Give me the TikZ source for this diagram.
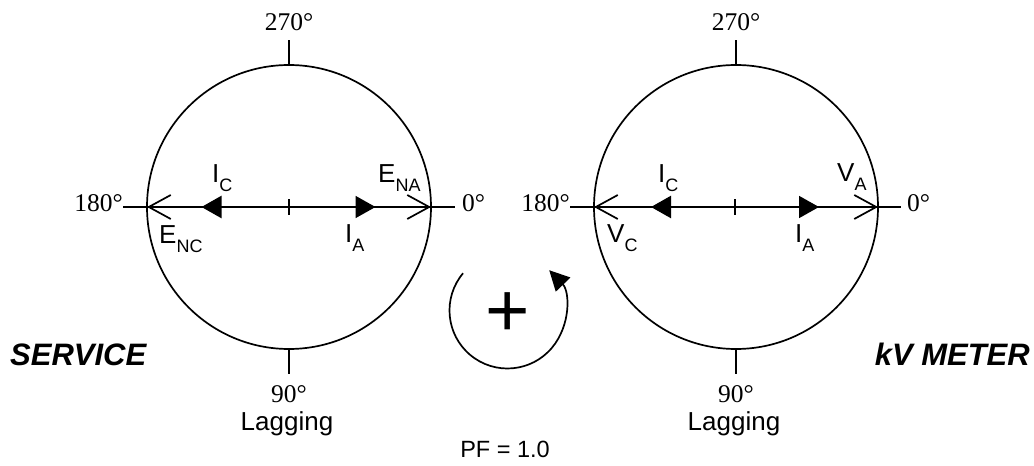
\documentclass[tikz,border=0pt]{standalone}
\usepackage{fontspec}
\setmainfont{Liberation Serif}
\newfontfamily\arialf{Liberation Sans}
\usetikzlibrary{arrows.meta}
\newcommand\vecsub[2]{#1\raisebox{-9pt}{\fontsize{18}{18}\selectfont #2}}
\begin{document}
\begin{tikzpicture}[x=1pt,y=1pt,
  dial/.style={circle,draw,minimum size=284pt,inner sep=0pt,outer sep=0pt,line width=1.7pt},
  axis/.style={line width=1.7pt},
  openvec/.style={line width=1.7pt,-{Straight Barb[length=22pt,width=24pt,line width=1.7pt]}},
  fillvec/.style={line width=2.4pt,-{Triangle[length=20pt,width=22pt]}},
  deg/.style={font=\fontsize{25.5}{30}\selectfont,inner sep=0pt},
  sans/.style={font=\arialf\fontsize{26}{30}\selectfont,inner sep=0pt},
  title/.style={font=\arialf\bfseries\itshape\fontsize{31}{36}\selectfont,inner sep=0pt},
  rotarrow/.style={line width=1.7pt,-{Triangle[length=20pt,width=20pt]}}
]
\useasboundingbox (0,0) rectangle (1034,466);

% ---------- left dial (SERVICE) ----------
\node[dial] (L) at (289,259) {};
\coordinate (Lc) at (289,259);
\coordinate (Lw) at (123,259);
\coordinate (Le) at (455,259);
\coordinate (LtopEnd) at (289,426);
\coordinate (LbotEnd) at (289,92);
\coordinate (LIC) at (201.5,259);
\coordinate (LIA) at (375.5,259);
\coordinate (LtickA) at (289,251);
\coordinate (LtickB) at (289,267);
\draw[axis] (Lw) -- (Le);
\draw[axis] (L.north) -- (LtopEnd);
\draw[axis] (L.south) -- (LbotEnd);
\draw[axis,line width=1.4pt] (LtickA) -- (LtickB);
\draw[openvec] (Lc) -- (L.west);
\draw[openvec] (Lc) -- (L.east);
\draw[fillvec] (Lc) -- (LIC);
\draw[fillvec,line width=1.7pt] (Lc) -- (LIA);
\node[deg,anchor=base] (L270) at (289,435.5) {270°};
\node[deg,anchor=base] (L90) at (289,63) {90°};
\node[sans,anchor=base] (Llag) at (287,35) {Lagging};
\node[deg,anchor=base east] (L180) at (123,254) {180°};
\node[deg,anchor=base west] (L0) at (462,254) {0°};
\node[sans,anchor=base west] (LlIC) at (212,283) {\vecsub{I}{C}};
\node[sans,anchor=base west] (LlENA) at (378,283) {\vecsub{E}{NA}};
\node[sans,anchor=base west] (LlENC) at (159,222) {\vecsub{E}{NC}};
\node[sans,anchor=base west] (LlIA) at (345,223) {\vecsub{I}{A}};
\node[title,anchor=base west] (svc) at (10,100) {SERVICE};

% ---------- right dial (kV METER) ----------
\node[dial] (R) at (736,259) {};
\coordinate (Rc) at (736,259);
\coordinate (Rw) at (570,259);
\coordinate (Re) at (901,259);
\coordinate (RtopEnd) at (736,426);
\coordinate (RbotEnd) at (736,92);
\coordinate (RIC) at (651,259);
\coordinate (RIA) at (819,259);
\coordinate (RtickA) at (735,251);
\coordinate (RtickB) at (735,267);
\draw[axis] (Rw) -- (Re);
\draw[axis] (R.north) -- (RtopEnd);
\draw[axis] (R.south) -- (RbotEnd);
\draw[axis,line width=1.4pt] (RtickA) -- (RtickB);
\draw[openvec] (Rc) -- (R.west);
\draw[openvec] (Rc) -- (R.east);
\draw[fillvec] (Rc) -- (RIC);
\draw[fillvec,line width=1.7pt] (Rc) -- (RIA);
\node[deg,anchor=base] (R270) at (736,435.5) {270°};
\node[deg,anchor=base] (R90) at (736,63) {90°};
\node[sans,anchor=base] (Rlag) at (734,35) {Lagging};
\node[deg,anchor=base east] (R180) at (570,254) {180°};
\node[deg,anchor=base west] (R0) at (907,254) {0°};
\node[sans,anchor=base west] (RlIC) at (658,283) {\vecsub{I}{C}};
\node[sans,anchor=base west] (RlVA) at (837,284) {\vecsub{V}{A}};
\node[sans,anchor=base west] (RlVC) at (607,223) {\vecsub{V}{C}};
\node[sans,anchor=base west] (RlIA) at (795,223) {\vecsub{I}{A}};
\node[title,anchor=base east] (kvm) at (1030,100) {kV METER};

% ---------- rotation sign ----------
\coordinate (rot) at (507.5,155.5);
\draw[rotarrow] (rot) ++(140:58) coordinate (rotS) arc[start angle=140,end angle=404,radius=58];
\node[font=\arialf\fontsize{76}{76}\selectfont,inner sep=0pt] (plus) at (507.7,151) {+};
\node[sans,font=\arialf\fontsize{23.5}{28}\selectfont,anchor=base] (pf) at (505,8) {PF = 1.0};
\end{tikzpicture}
\end{document}
